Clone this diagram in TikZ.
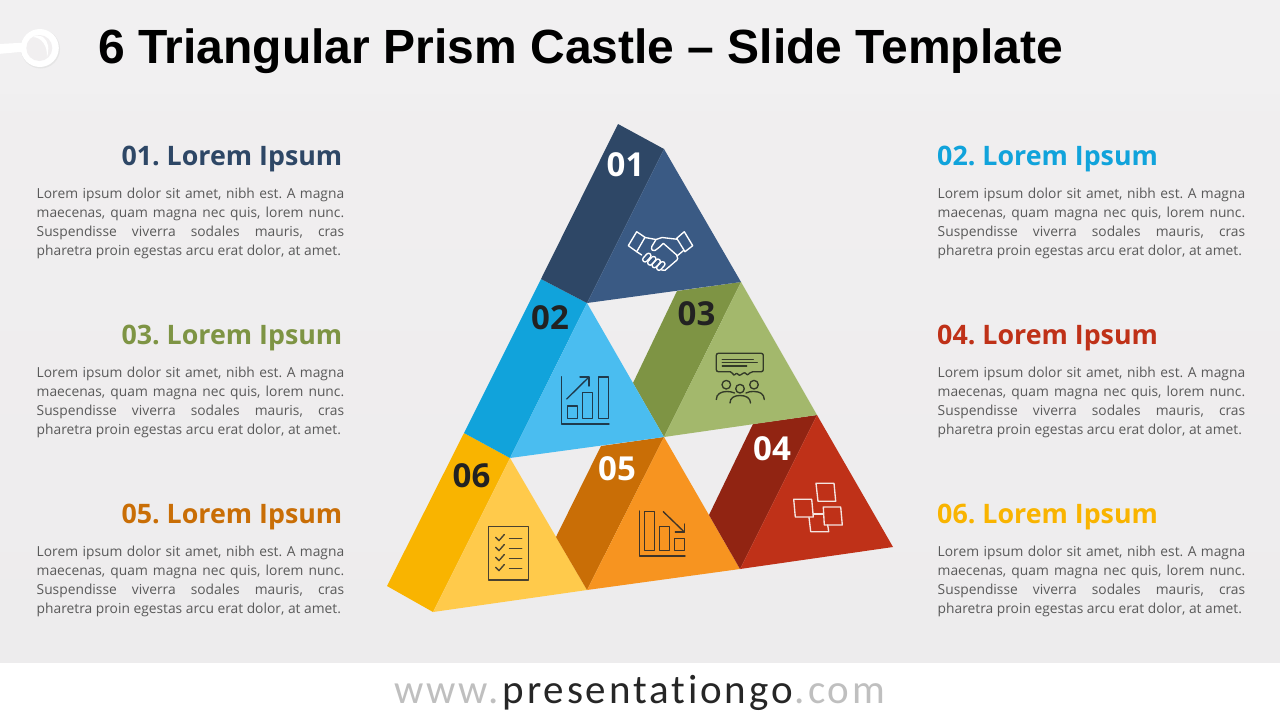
\documentclass[tikz,border=0pt]{standalone}
\usepackage{fontspec}
\setmainfont{Open Sans}
\newfontfamily\titlefont{Liberation Sans}[BoldFont={Liberation Sans Bold}]
\newfontfamily\headfont{Open Sans}
\newfontfamily\footfont{Carlito}[LetterSpace=7,Ligatures=NoCommon]
\frenchspacing
\definecolor{bgtitle}{HTML}{F1F0F1}
\definecolor{bgtop}{HTML}{F1EFF0}
\definecolor{bgbot}{HTML}{EDECED}
\definecolor{sideA}{HTML}{2E4766}\definecolor{frontA}{HTML}{3A5A84}
\definecolor{sideB}{HTML}{11A3DB}\definecolor{frontB}{HTML}{4ABDF0}
\definecolor{sideC}{HTML}{7E9444}\definecolor{frontC}{HTML}{A3B86C}
\definecolor{sideD}{HTML}{912412}\definecolor{frontD}{HTML}{BF3118}
\definecolor{sideE}{HTML}{C96E06}\definecolor{frontE}{HTML}{F79420}
\definecolor{sideF}{HTML}{F9B400}\definecolor{frontF}{HTML}{FFCA4B}
\definecolor{bodygrey}{HTML}{595959}
\definecolor{numdark}{HTML}{222222}
\definecolor{icondark}{HTML}{1F3A4C}
\definecolor{iconolive}{HTML}{333A28}
\definecolor{iconyellow}{HTML}{4A4230}
\definecolor{iconorange}{HTML}{3E3428}
\definecolor{iconpaper}{HTML}{F4E4E0}
\definecolor{footgrey}{HTML}{BFBFBF}
\definecolor{footdark}{HTML}{262626}
\newcommand{\loremtext}{\parbox[t]{307.5pt}{\fontsize{13.8pt}{19.1pt}\selectfont\color{bodygrey}\sloppy
\leavevmode\hbox to 307.5pt{Lorem ipsum dolor sit amet, nibh est. A magna}\\
\hbox to 307.5pt{maecenas, quam magna nec quis, lorem nunc.}\\
\hbox to 307.5pt{Suspendisse viverra sodales mauris, cras}\\
\hbox{pharetra proin egestas arcu erat dolor, at amet.}}}
\tikzset{
  x=1pt,y=-1pt,
  headleft/.style={anchor=base east,inner sep=0pt,font=\headfont\bfseries\fontsize{26.8pt}{30pt}\selectfont},
  headright/.style={anchor=base west,inner sep=0pt,font=\headfont\bfseries\fontsize{26.8pt}{30pt}\selectfont},
  bodynode/.style={anchor=base west,inner sep=0pt},
  numlabel/.style={inner sep=0pt,font=\headfont\bfseries\fontsize{33pt}{36pt}\selectfont},
  iconline/.style={line width=1.35pt,line join=round,line cap=round}
}
\begin{document}
\begin{tikzpicture}
\useasboundingbox (0,0) rectangle (1280,720);
% background
\fill[white] (0,0) rectangle (1280,720);
\shade[top color=bgtop,bottom color=bgbot] (0,0) rectangle (1280,662);
\fill[bgtitle] (0,0) rectangle (1280,94);
% pin
\fill[black!10] (40.5,49) circle (19.5);
\fill[white] (0,44) -- (23,42.7) -- (23,51.7) -- (0,53.8) -- cycle;
\fill[white] (39.8,48) circle (19);
\fill[bgtop] (39.3,48) circle (13);
\fill[white] (33,37) .. controls (42,37.5) and (47.5,46) .. (47,57) .. controls (49.5,49) and (48.5,41) .. (43,37) .. controls (40,35.2) and (35,35.3) .. (33,37) -- cycle;
% title
\node[anchor=base west,inner sep=0pt,font=\titlefont\bfseries\fontsize{48pt}{54pt}\selectfont] (title) at (98,63.5) {6 Triangular Prism Castle – Slide Template};
% left column
\node[headleft,text=sideA] (h1) at (342.5,165.5) {01. Lorem Ipsum};
\node[bodynode] (b1) at (36.5,188) {\loremtext};
\node[headleft,text=sideC] (h3) at (342.5,344.5) {03. Lorem Ipsum};
\node[bodynode] (b3) at (36.5,367) {\loremtext};
\node[headleft,text=sideE] (h5) at (342.5,523.5) {05. Lorem Ipsum};
\node[bodynode] (b5) at (36.5,546) {\loremtext};
% right column
\node[headright,text=sideB] (h2) at (937,165.5) {02. Lorem Ipsum};
\node[bodynode] (b2) at (937.5,188) {\loremtext};
\node[headright,text=frontD] (h4) at (937,344.5) {04. Lorem Ipsum};
\node[bodynode] (b4) at (937.5,367) {\loremtext};
\node[headright,text=sideF] (h6) at (937,523.5) {06. Lorem Ipsum};
\node[bodynode] (b6) at (937.5,546) {\loremtext};
% prisms
\fill[sideF] (464,433) -- (510,458) -- (433,612) -- (387,586) -- cycle;
\fill[frontF] (510,458) -- (587,590) -- (433,612) -- cycle;
\fill[sideE] (601,446) -- (664,437) -- (587,590) -- (556,537) -- cycle;
\fill[frontE] (664,437) -- (740,569) -- (587,590) -- cycle;
\fill[sideD] (753,424) -- (817,415) -- (740,569) -- (709,515) -- cycle;
\fill[frontD] (817,415) -- (893,547) -- (740,569) -- cycle;
\fill[sideC] (677,291) -- (741,282) -- (664,437) -- (633,383) -- cycle;
\fill[frontC] (741,282) -- (817,415) -- (664,437) -- cycle;
\fill[sideB] (541,279) -- (587,303) -- (510,458) -- (464,433) -- cycle;
\fill[frontB] (587,303) -- (664,437) -- (510,458) -- cycle;
\fill[sideA] (618,124) -- (664,149) -- (587,303) -- (541,279) -- cycle;
\fill[frontA] (664,149) -- (741,282) -- (587,303) -- cycle;
% numbers
\node[numlabel,text=white] (n1) at (625.5,164.5) {01};
\node[numlabel,text=numdark] (n2) at (550,317.5) {02};
\node[numlabel,text=numdark] (n3) at (696.5,313.5) {03};
\node[numlabel,text=white] (n4) at (772,448.5) {04};
\node[numlabel,text=white] (n5) at (617,468.5) {05};
\node[numlabel,text=numdark] (n6) at (471.5,475.5) {06};
% handshake icon
\begin{scope}[iconline,draw=white]
\draw (636.7,231.7) -- (645,237.3) -- (636.7,251.7) -- (628.3,245.7) -- cycle;
\draw (684.3,231.7) -- (692.7,245.7) -- (685,251.7) -- (676.7,238.3) -- cycle;
\draw (645,237.5) -- (656,239.5) -- (662,237.5) -- (676.7,239.2);
\draw (656,239.5) -- (651.7,246.7) .. controls (651,250) and (653,251.5) .. (655,250.5) -- (660,246.7) -- (663.3,243.3) -- (676.7,255) .. controls (678.5,257) and (678,260) .. (675,261.7) -- (665,270.3) -- (661.5,270);
\draw (683.3,250.7) -- (677,256);
\draw (636.7,251.7) -- (641.7,255);
\foreach \cx/\cy in {646.8/257.6,651.8/260.8,656.2/263.4,660.8/266}
  \draw[rounded corners=2.3pt,rotate around={-42:(\cx,\cy)}] (\cx-2.4,\cy-5) rectangle (\cx+2.4,\cy+5);
\end{scope}
% rising chart icon
\begin{scope}[iconline,draw=icondark]
\draw (561.7,376.7) -- (561.7,424) -- (609,424);
\draw (567.3,406) rectangle (577.3,418.3);
\draw (582.7,392.7) rectangle (592.7,418.3);
\draw (598.7,377) rectangle (608.7,418.3);
\draw (566.7,399) -- (589,377);
\draw (580,377) -- (589,377) -- (589,386);
\end{scope}
% meeting icon
\begin{scope}[iconline,draw=iconolive]
\draw[rounded corners=2pt] (732.3,371.7) -- (716.3,371.7) -- (716.3,353.3) -- (763.3,353.3) -- (763.3,371.7) -- (750.7,371.7) -- (747.3,375.7) -- (745,372) -- (739,376) -- (737,372.5) -- (733.5,376) -- cycle;
\draw (722.3,359.3) -- (753.3,359.3);
\draw (722.3,362.7) -- (757.3,362.7);
\draw (722.3,366) -- (746.7,366);
\draw (726.3,384.7) circle (4.3);
\draw (740,388.7) circle (4.3);
\draw (754,384.7) circle (4.3);
\draw (716.3,399.5) .. controls (716.3,394) and (721,391.5) .. (727,391.5) .. controls (730,391.5) and (732,392) .. (734.5,393);
\draw (746,393) .. controls (748,392) and (750,391.5) .. (754,391.5) .. controls (760,391.5) and (764,394) .. (764.3,399.5);
\draw (730,403) .. controls (730,398) and (734,395.5) .. (740,395.5) .. controls (746,395.5) and (750.5,398) .. (750.5,403);
\end{scope}
% checklist icon
\begin{scope}[iconline,draw=iconyellow]
\draw (488.7,526.7) rectangle (528.3,580);
\foreach \ly in {538.3,548.3,558.3,568.3}{
  \draw (495.7,\ly-1) -- (499,\ly+2.3) -- (504.3,\ly-3.8);
  \draw (509.5,\ly) -- (521.7,\ly);
}
\end{scope}
% falling chart icon
\begin{scope}[iconline,draw=iconorange]
\draw (639.3,511) -- (639.3,556) -- (685,556);
\draw (644.7,511.7) rectangle (654.7,550.3);
\draw (659.7,526.3) rectangle (669.3,550.3);
\draw (674.7,538.3) rectangle (684.7,550.3);
\draw (663.3,511.7) -- (684.3,532);
\draw (684.3,524) -- (684.3,532) -- (675.3,532);
\end{scope}
% notes icon
\begin{scope}[iconline,draw=iconpaper]
\draw (816,483.3) -- (834,483.3) -- (835.7,501.3) -- (818,501.3) -- cycle;
\draw (793.7,499.3) -- (811.7,499.3) -- (813.3,517) -- (795.3,517) -- cycle;
\draw (823.3,507) -- (840.7,507) -- (842.3,525) -- (824.3,525) -- cycle;
\draw (809,517.3) -- (810.7,531.7) -- (828.7,531.7) -- (827.7,525);
\draw (813.3,514) -- (822.7,514);
\end{scope}
% footer
\node[anchor=base west,inner sep=0pt,font=\footfont\fontsize{41pt}{44pt}\selectfont] (foot) at (394,703) {\textcolor{footgrey}{www.}\kern4pt\textcolor{footdark}{presentationgo}\kern2pt\textcolor{footgrey}{.com}};
\end{tikzpicture}
\end{document}
